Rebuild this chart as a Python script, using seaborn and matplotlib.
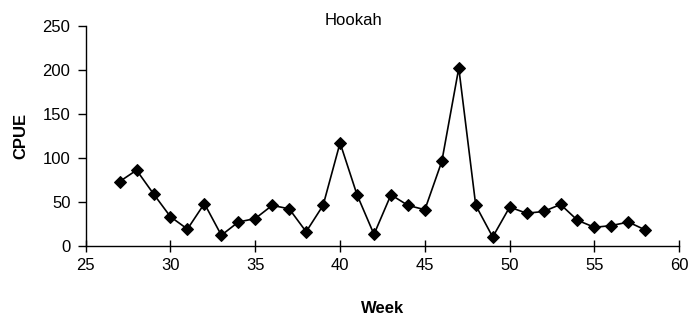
import numpy as np
import pandas as pd
import matplotlib
matplotlib.use("Agg")
import matplotlib.pyplot as plt
import seaborn as sns

weeks = list(range(27, 59))
cpue = [73, 86, 59, 33, 19, 48, 12, 27, 31, 46, 42, 16, 46, 117, 58, 13,
        58, 46, 41, 96, 202, 46, 10, 44, 37, 39, 47, 29, 21, 23, 27, 18]
x_ticks = [25, 30, 35, 40, 45, 50, 55, 60]
y_ticks = [0, 50, 100, 150, 200, 250]

df = pd.DataFrame({"Week": weeks, "CPUE": cpue})

sns.set_style("white")
plt.rcParams['font.family'] = ['Liberation Sans', 'DejaVu Sans']
plt.rcParams['text.color'] = 'black'
plt.rcParams['axes.labelcolor'] = 'black'

fig = plt.figure(figsize=(6.91, 3.23), dpi=100)
ax = fig.add_axes([0.124, 0.239, 0.859, 0.681])

sns.lineplot(data=df, x="Week", y="CPUE", ax=ax, color="black", linewidth=1.2,
             marker="D", markersize=6, markeredgecolor="black", markerfacecolor="black")

ax.set_xlim(25, 60)
ax.set_ylim(0, 250)
ax.set_xticks(x_ticks)
ax.set_yticks(y_ticks)
ax.tick_params(axis="x", bottom=True, direction="inout", length=8, width=1,
               labelsize=12, pad=5, colors="black")
ax.tick_params(axis="y", left=True, direction="out", length=6, width=1,
               labelsize=12, pad=5, colors="black")
for s in ["top", "right"]:
    ax.spines[s].set_visible(False)
for s in ["left", "bottom"]:
    ax.spines[s].set_color("black")
    ax.spines[s].set_linewidth(1)

ax.set_xlabel("Week", fontsize=12, fontweight="bold", labelpad=20, color="black")
ax.set_ylabel("CPUE", fontsize=12, fontweight="bold", labelpad=10, color="black")
fig.text(0.511, 0.937, "Hookah", ha="center", va="center", fontsize=12, color="black")

fig.savefig("out.png", dpi=100)
